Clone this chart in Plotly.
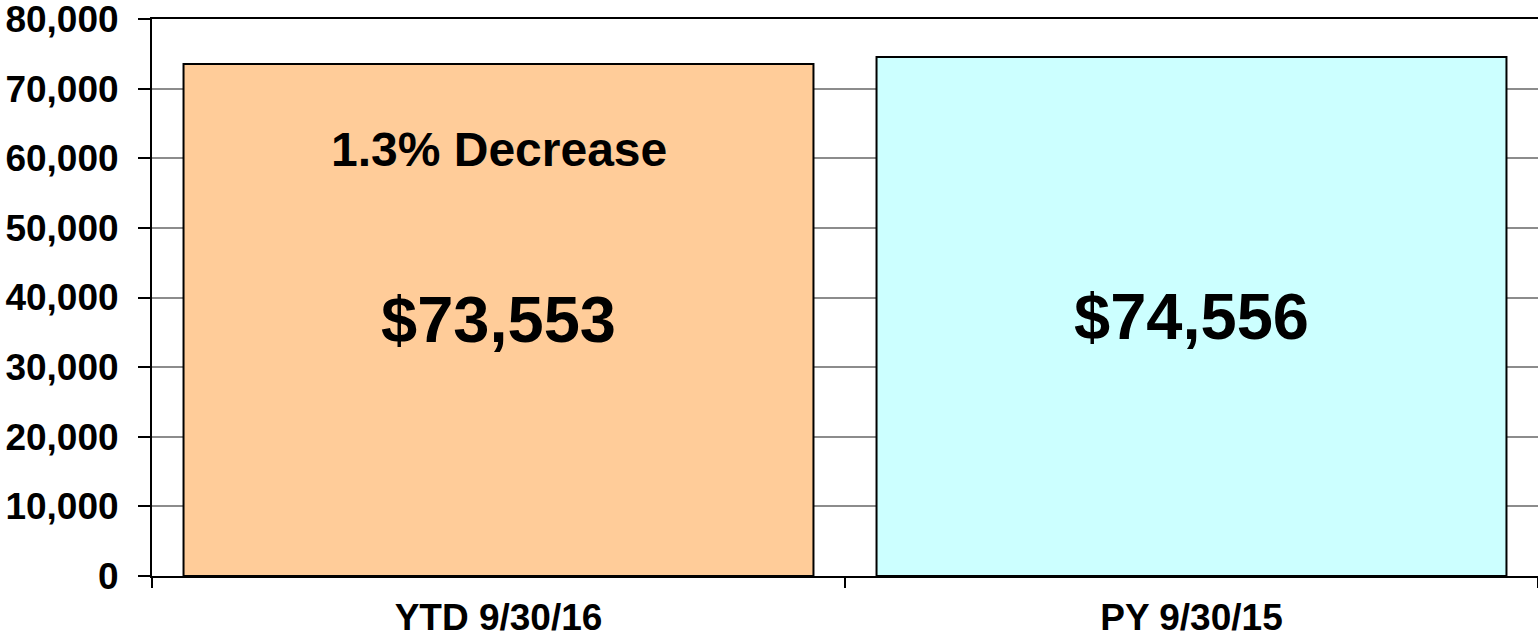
import plotly.graph_objects as go

categories = ["YTD 9/30/16", "PY 9/30/15"]
values = [73553, 74556]
bar_colors = ["#FFCC99", "#CCFFFF"]
change_label = "1.3% Decrease"
y_ticks = [0, 10000, 20000, 30000, 40000, 50000, 60000, 70000, 80000]

FONT = "Arial, 'Liberation Sans', sans-serif"

fig = go.Figure()
fig.add_trace(go.Bar(
    x=categories,
    y=values,
    width=0.909,
    marker=dict(color=bar_colors, line=dict(color="#000000", width=2)),
    texttemplate="$%{y:,}",
    textposition="inside",
    insidetextanchor="middle",
    textfont=dict(family=FONT, size=65, color="#000000", weight="bold"),
    hoverinfo="skip",
    cliponaxis=False,
))

fig.add_annotation(
    x=categories[0], y=61300, xref="x", yref="y",
    text="<b>" + change_label + "</b>", showarrow=False,
    font=dict(family=FONT, size=48, color="#000000"),
    xanchor="center", yanchor="middle",
)

fig.update_layout(
    width=1538, height=640,
    margin=dict(l=152, r=0, t=19, b=64, autoexpand=False),
    paper_bgcolor="#FFFFFF", plot_bgcolor="#FFFFFF",
    showlegend=False,
    bargap=0.091,
    font=dict(family=FONT, color="#000000"),
)
fig.update_xaxes(
    type="category", automargin=False,
    showline=True, linecolor="#000000", linewidth=2, mirror=True,
    ticks="outside", ticklen=10, tickwidth=2, tickcolor="#000000",
    tickson="boundaries",
    showgrid=False,
    tickfont=dict(family=FONT, size=37, color="#000000", weight="bold"),
    ticklabelstandoff=8,
    ticklabeloverflow="allow",
)
fig.update_yaxes(
    range=[0, 80000], automargin=False,
    tickmode="array", tickvals=y_ticks, tickformat=",",
    showline=True, linecolor="#000000", linewidth=2,
    ticks="outside", ticklen=12, tickwidth=2, tickcolor="#000000",
    showgrid=True, gridcolor="#8C8C8C", gridwidth=1.5,
    zeroline=False,
    tickfont=dict(family=FONT, size=37, color="#000000", weight="bold"),
    ticklabelstandoff=12,
    ticklabeloverflow="allow",
)

fig.write_html(
    "out.html",
    config={"displayModeBar": False},
    post_script="document.body.style.margin='0';document.body.style.overflow='hidden';",
)
